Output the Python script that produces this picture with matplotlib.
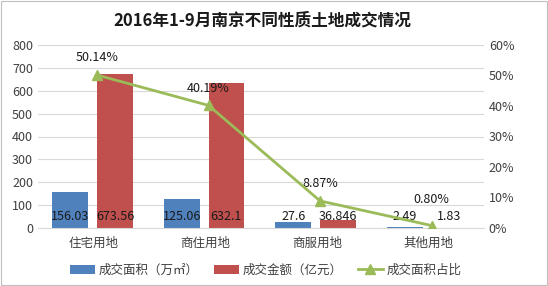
import numpy as np
import matplotlib.pyplot as plt
from matplotlib.ticker import PercentFormatter

plt.rcParams["font.family"] = ["Noto Sans CJK SC", "DejaVu Sans"]

categories = ["住宅用地", "商住用地", "商服用地", "其他用地"]
area = [156.03, 125.06, 27.6, 2.49]
amount = [673.56, 632.1, 36.846, 1.83]
area_labels = ["156.03", "125.06", "27.6", "2.49"]
amount_labels = ["673.56", "632.1", "36.846", "1.83"]
share = [50.14, 40.19, 8.87, 0.80]

BLUE = "#4F81BD"
RED = "#C0504D"
GREEN = "#9BBB59"
GRID = "#D9D9D9"
TXT = "#404040"

fig = plt.figure(figsize=(5.48, 2.86), dpi=100)
ax = fig.add_axes([38 / 548, 1 - 228 / 286, 446 / 548, 183 / 286])
ax2 = ax.twinx()

x = np.arange(len(categories))
w = 0.32
ax.bar(x - 0.21, area, w, color=BLUE, label="成交面积（万㎡）", zorder=2)
ax.bar(x + 0.19, amount, w, color=RED, label="成交金额（亿元）", zorder=2)

for i in range(len(categories)):
    ax.text(x[i] - 0.21, 50, area_labels[i], ha="center", va="center", fontsize=9, color="#1a1a1a", zorder=3)
    ax.text(x[i] + 0.19, 50, amount_labels[i], ha="center", va="center", fontsize=9, color="#1a1a1a", zorder=3)

ax.set_xlim(-0.5, 3.5)
ax.set_ylim(0, 800)
ax.set_yticks(np.arange(0, 801, 100))
ax.yaxis.grid(True, color=GRID, linewidth=0.8, zorder=0)
ax.set_axisbelow(True)
ax.set_xticks(x)
ax.set_xticklabels(categories, fontsize=9, color=TXT)
ax.tick_params(axis="both", length=0, labelsize=9, colors=TXT)
ax.tick_params(axis="x", pad=6)
for s in ax.spines.values():
    s.set_visible(False)
ax.spines["bottom"].set_visible(True)
ax.spines["bottom"].set_color(GRID)

ax2.plot(x + 0.03, share, color=GREEN, linewidth=2, marker="^", markersize=7,
         label="成交面积占比", zorder=4)
ax2.set_ylim(0, 60)
ax2.set_yticks(np.arange(0, 61, 10))
ax2.yaxis.set_major_formatter(PercentFormatter(decimals=0))
ax2.tick_params(axis="y", length=0, labelsize=9, colors=TXT)
for s in ax2.spines.values():
    s.set_visible(False)
for i, v in enumerate(share):
    dy = 6.5 if i == 3 else 3.5
    ax2.text(x[i] + 0.03, v + dy, f"{v:.2f}%", ha="center", va="bottom", fontsize=9, color="#1a1a1a")

fig.text(0.478, 0.93, "2016年1-9月南京不同性质土地成交情况", ha="center", va="center",
         fontsize=12, fontweight="bold", color="#1a1a1a")

h1, l1 = ax.get_legend_handles_labels()
h2, l2 = ax2.get_legend_handles_labels()
fig.legend(h1 + h2, l1 + l2, loc="center", bbox_to_anchor=(0.485, 0.055), ncol=3,
           frameon=False, fontsize=9, handlelength=2.0, handletextpad=0.3,
           columnspacing=1.2, labelcolor=TXT)

fig.patches.append(plt.Rectangle((0.001, 0.002), 0.997, 0.995, transform=fig.transFigure,
                                 fill=False, edgecolor="#BFBFBF", linewidth=0.8))

fig.savefig("out.png", dpi=100)
